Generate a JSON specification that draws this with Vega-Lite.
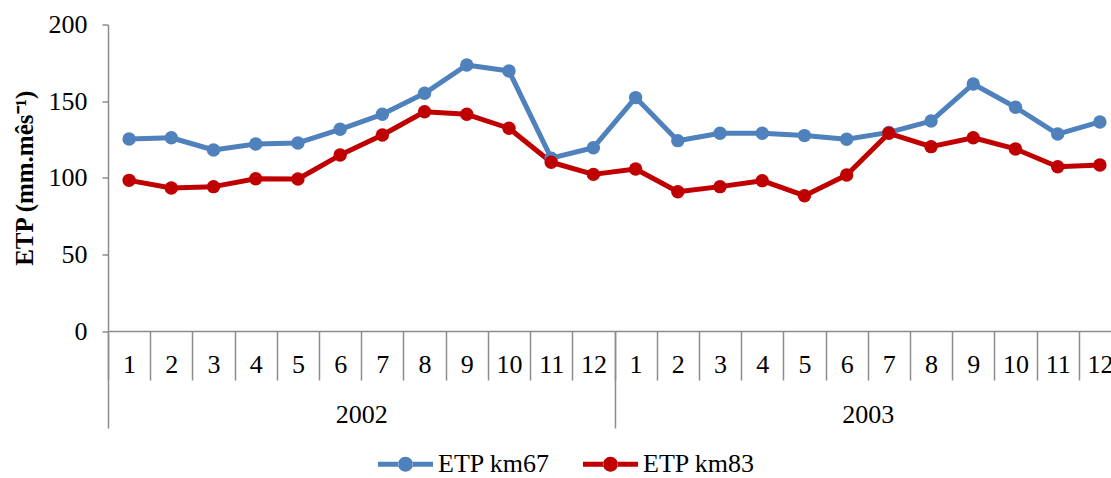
{
  "$schema": "https://vega.github.io/schema/vega-lite/v6.json",
  "autosize": {"type": "none"},
  "padding": {"left": 108, "top": 24.5, "right": 0, "bottom": 147},
  "width": 1003,
  "height": 306.5,
  "config": {
    "view": {"stroke": null},
    "font": "Liberation Serif",
    "axis": {"grid": false, "domainColor": "#8c8c8c", "tickColor": "#8c8c8c", "labelColor": "#000000", "labelFont": "Liberation Serif", "labelFontSize": 26, "titleFont": "Liberation Serif"}
  },
  "data": {
    "values": [
      {"idx": 1, "year": "2002", "series": "ETP km67", "value": 125.3},
      {"idx": 2, "year": "2002", "series": "ETP km67", "value": 126.1},
      {"idx": 3, "year": "2002", "series": "ETP km67", "value": 118.1},
      {"idx": 4, "year": "2002", "series": "ETP km67", "value": 122.0},
      {"idx": 5, "year": "2002", "series": "ETP km67", "value": 122.7},
      {"idx": 6, "year": "2002", "series": "ETP km67", "value": 131.6},
      {"idx": 7, "year": "2002", "series": "ETP km67", "value": 141.4},
      {"idx": 8, "year": "2002", "series": "ETP km67", "value": 155.1},
      {"idx": 9, "year": "2002", "series": "ETP km67", "value": 173.6},
      {"idx": 10, "year": "2002", "series": "ETP km67", "value": 169.7},
      {"idx": 11, "year": "2002", "series": "ETP km67", "value": 112.8},
      {"idx": 12, "year": "2002", "series": "ETP km67", "value": 119.6},
      {"idx": 13, "year": "2003", "series": "ETP km67", "value": 152.3},
      {"idx": 14, "year": "2003", "series": "ETP km67", "value": 124.2},
      {"idx": 15, "year": "2003", "series": "ETP km67", "value": 129.0},
      {"idx": 16, "year": "2003", "series": "ETP km67", "value": 129.0},
      {"idx": 17, "year": "2003", "series": "ETP km67", "value": 127.5},
      {"idx": 18, "year": "2003", "series": "ETP km67", "value": 125.1},
      {"idx": 19, "year": "2003", "series": "ETP km67", "value": 129.6},
      {"idx": 20, "year": "2003", "series": "ETP km67", "value": 137.0},
      {"idx": 21, "year": "2003", "series": "ETP km67", "value": 161.2},
      {"idx": 22, "year": "2003", "series": "ETP km67", "value": 146.0},
      {"idx": 23, "year": "2003", "series": "ETP km67", "value": 128.5},
      {"idx": 24, "year": "2003", "series": "ETP km67", "value": 136.4},
      {"idx": 1, "year": "2002", "series": "ETP km83", "value": 98.3},
      {"idx": 2, "year": "2002", "series": "ETP km83", "value": 93.3},
      {"idx": 3, "year": "2002", "series": "ETP km83", "value": 94.2},
      {"idx": 4, "year": "2002", "series": "ETP km83", "value": 99.4},
      {"idx": 5, "year": "2002", "series": "ETP km83", "value": 99.2},
      {"idx": 6, "year": "2002", "series": "ETP km83", "value": 114.8},
      {"idx": 7, "year": "2002", "series": "ETP km83", "value": 127.9},
      {"idx": 8, "year": "2002", "series": "ETP km83", "value": 143.1},
      {"idx": 9, "year": "2002", "series": "ETP km83", "value": 141.4},
      {"idx": 10, "year": "2002", "series": "ETP km83", "value": 132.3},
      {"idx": 11, "year": "2002", "series": "ETP km83", "value": 110.1},
      {"idx": 12, "year": "2002", "series": "ETP km83", "value": 102.2},
      {"idx": 13, "year": "2003", "series": "ETP km83", "value": 105.7},
      {"idx": 14, "year": "2003", "series": "ETP km83", "value": 90.9},
      {"idx": 15, "year": "2003", "series": "ETP km83", "value": 94.2},
      {"idx": 16, "year": "2003", "series": "ETP km83", "value": 98.1},
      {"idx": 17, "year": "2003", "series": "ETP km83", "value": 88.3},
      {"idx": 18, "year": "2003", "series": "ETP km83", "value": 101.8},
      {"idx": 19, "year": "2003", "series": "ETP km83", "value": 129.0},
      {"idx": 20, "year": "2003", "series": "ETP km83", "value": 120.3},
      {"idx": 21, "year": "2003", "series": "ETP km83", "value": 126.1},
      {"idx": 22, "year": "2003", "series": "ETP km83", "value": 118.8},
      {"idx": 23, "year": "2003", "series": "ETP km83", "value": 107.2},
      {"idx": 24, "year": "2003", "series": "ETP km83", "value": 108.3}
    ]
  },
  "resolve": {"scale": {"x": "independent"}, "axis": {"x": "independent"}},
  "layer": [
    {
      "layer": [
        {
          "mark": {"type": "line", "strokeWidth": 5, "strokeJoin": "round", "strokeCap": "round"},
          "encoding": {
            "x": {"field": "idx", "type": "ordinal", "scale": {"range": [0, 1013], "paddingInner": 0, "paddingOuter": 0},
              "axis": {"orient": "bottom", "title": null, "labelAngle": 0, "labelExpr": "isNumber(datum.value) && datum.value >= 1 ? ((datum.value - 1) % 12) + 1 : ''", "tickBand": "extent", "tickSize": 49, "tickWidth": 1.5, "domainWidth": 1.5, "labelPadding": -8, "labelBaseline": "alphabetic", "labelOverlap": false, "labelFlush": false}},
            "y": {"field": "value", "type": "quantitative", "scale": {"domain": [0, 200]},
              "axis": {"values": [0, 50, 100, 150, 200], "tickSize": 6, "tickWidth": 1.5, "domainWidth": 1.5, "labelPadding": 15, "title": "ETP (mm.mês⁻¹)", "titleFontSize": 25, "titleFontWeight": "bold", "titleColor": "#000000", "titleX": -84, "titleY": 153.25, "titleAngle": -90, "titleBaseline": "middle", "titleAlign": "center"}},
            "color": {"field": "series", "type": "nominal", "scale": {"domain": ["ETP km67", "ETP km83"], "range": ["#4F81BD", "#C00000"]},
              "legend": {"title": null, "orient": "none", "direction": "horizontal", "legendX": 270, "legendY": 412, "padding": 0,
                "symbolType": "M-1,-0.09H-0.255V0.09H-1Z M0.255,-0.09H1V0.09H0.255Z M-0.27,0A0.27,0.27 0 1,0 0.27,0A0.27,0.27 0 1,0 -0.27,0Z",
                "symbolSize": 3025, "symbolStrokeWidth": 0, "symbolOpacity": 1, "labelFontSize": 26, "labelFont": "Liberation Serif", "labelColor": "#000000", "labelOffset": 5, "columnPadding": 33, "labelLimit": 300}}
          }
        },
        {
          "mark": {"type": "point", "filled": true, "size": 180, "opacity": 1},
          "encoding": {
            "x": {"field": "idx", "type": "ordinal"},
            "y": {"field": "value", "type": "quantitative"},
            "color": {"field": "series", "type": "nominal"}
          }
        }
      ]
    },
    {
      "mark": {"type": "point", "opacity": 0},
      "encoding": {
        "x": {"field": "year", "type": "ordinal", "scale": {"range": [0, 1013], "paddingInner": 0, "paddingOuter": 0},
          "axis": {"orient": "bottom", "title": null, "labelAngle": 0, "domain": false, "tickBand": "extent", "tickSize": 97, "tickWidth": 1.5, "labelPadding": -6, "labelBaseline": "alphabetic", "labelFlush": false}},
        "y": {"field": "value", "type": "quantitative"}
      }
    }
  ]
}
